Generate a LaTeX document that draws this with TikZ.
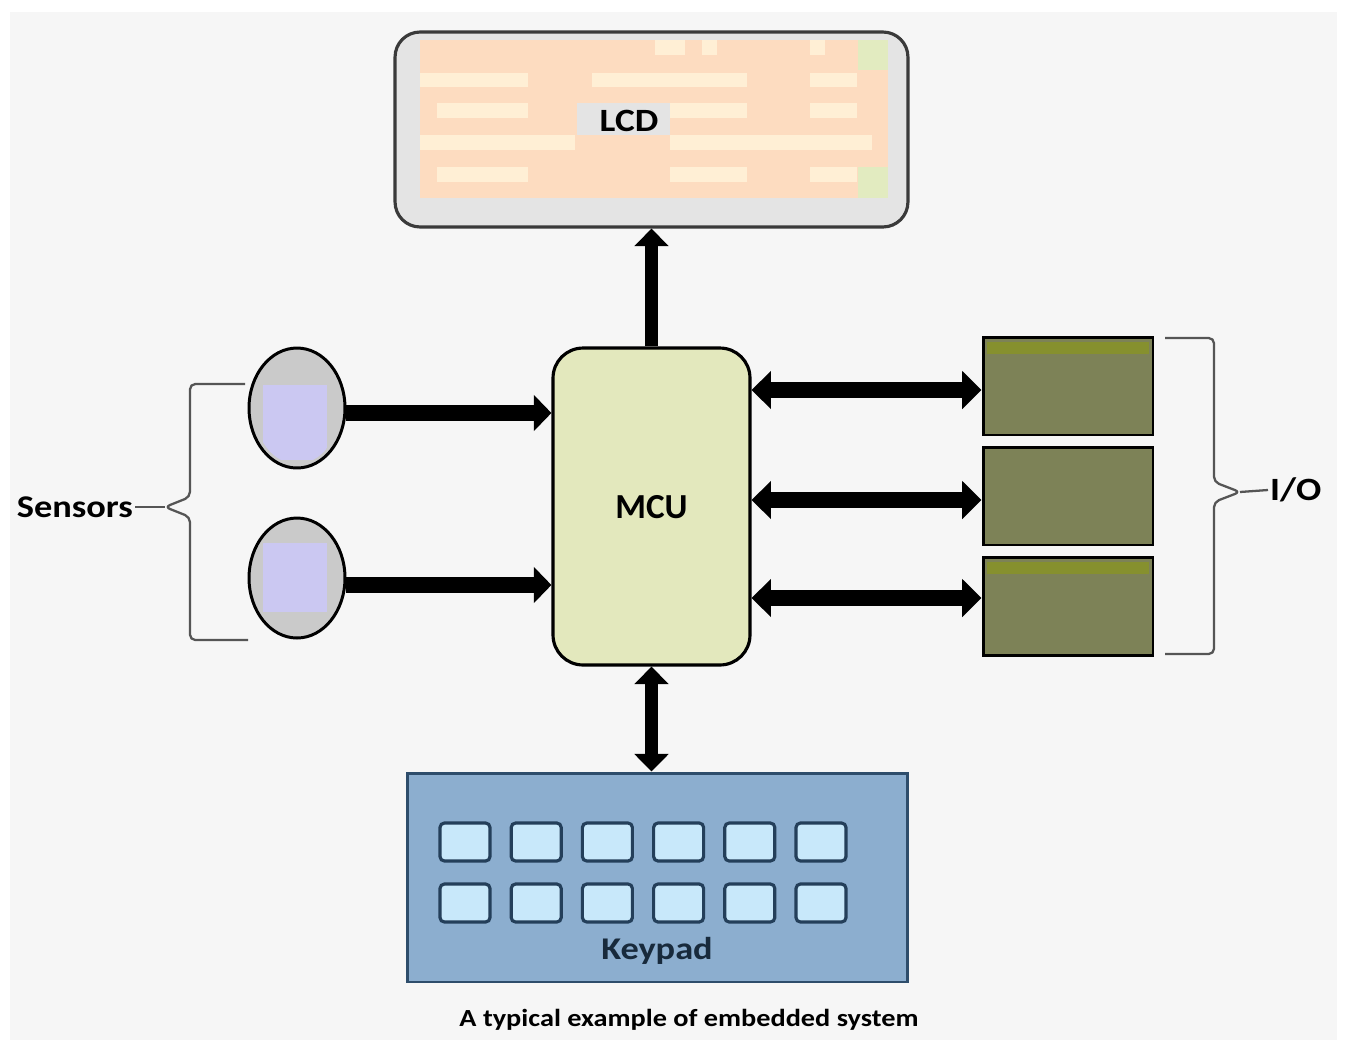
\documentclass[tikz,border=0pt]{standalone}
\usepackage{fontspec}
\setmainfont{Carlito}
\newfontfamily\widefont{Carlito}[FakeStretch=1.15]
\usetikzlibrary{arrows.meta,shapes.geometric}
\definecolor{bgc}{HTML}{F6F6F6}
\definecolor{lcdline}{HTML}{3A3A3A}
\definecolor{lcdfill}{HTML}{E4E4E4}
\definecolor{peach}{HTML}{FDDCC0}
\definecolor{cream}{HTML}{FFEFD5}
\definecolor{palegreen}{HTML}{E2EBC0}
\definecolor{mcufill}{HTML}{E3E8BD}
\definecolor{sensgray}{HTML}{CACACA}
\definecolor{lavender}{HTML}{CBC8F2}
\definecolor{olive}{HTML}{7D8257}
\definecolor{olivetop}{HTML}{86902E}
\definecolor{kpfill}{HTML}{8CAECF}
\definecolor{kpline}{HTML}{2E4D6B}
\definecolor{kptext}{HTML}{182A3C}
\definecolor{keyfill}{HTML}{C8E8FA}
\definecolor{keyline}{HTML}{243F5A}
\definecolor{bracec}{HTML}{555555}
\begin{document}
\begin{tikzpicture}[x=0.02cm,y=-0.02cm,
  lbl/.style={inner sep=1pt},
  arr/.style={line width=7.5pt, -{Triangle[length=10pt,width=19pt]}},
  sarr/.style={line width=9pt, -{Triangle[length=10pt,width=20pt]}},
  dbl/.style={line width=9pt, {Triangle[length=11pt,width=21pt]}-{Triangle[length=11pt,width=21pt]}},
  vdbl/.style={line width=7.5pt, {Triangle[length=10pt,width=19pt]}-{Triangle[length=10pt,width=19pt]}},
  sensor/.style={ellipse, draw=black, line width=1.7pt, fill=sensgray, minimum width=1.92cm, minimum height=2.4cm, inner sep=0pt},
  iobox/.style={rectangle, draw=black, line width=1.7pt, fill=olive, minimum width=3.4cm, minimum height=1.96cm, inner sep=0pt},
  keybox/.style={rectangle, draw=keyline, line width=1.8pt, fill=keyfill, rounded corners=2.5pt, minimum width=1.0cm, minimum height=0.76cm, inner sep=0pt},
  bracestyle/.style={draw=bracec, line width=1.3pt, rounded corners=3pt}
]
\useasboundingbox (0,0) rectangle (1345,1046);
\fill[white] (0,0) rectangle (1345,1046);
\fill[bgc] (10,12) rectangle (1337,1040);

% LCD
\node[draw=lcdline, line width=1.8pt, fill=lcdfill, rounded corners=0.5cm,
      minimum width=10.26cm, minimum height=3.9cm, inner sep=0pt] (lcd) at (651.5,129.5) {};
\fill[peach] (420,40) rectangle (888,198);
\fill[palegreen] (858,40) rectangle (888,70);
\fill[palegreen] (858,167) rectangle (888,198);
\foreach \a/\b in {655/685,702/717,810/825}{\fill[cream] (\a,40) rectangle (\b,55);}
\foreach \a/\b in {420/528,592/747,810/857}{\fill[cream] (\a,73) rectangle (\b,87);}
\foreach \a/\b in {437/528,670/747,810/857}{\fill[cream] (\a,103) rectangle (\b,118);}
\foreach \a/\b in {420/575,670/872}{\fill[cream] (\a,135) rectangle (\b,150);}
\foreach \a/\b in {437/528,670/747,810/857}{\fill[cream] (\a,167) rectangle (\b,182);}
\fill[lcdfill] (577,103) rectangle (670,135);
\node[lbl, font=\widefont\bfseries\fontsize{18.5}{22}\selectfont] (lcdtext) at (629,121) {LCD};

% MCU
\node[draw=black, line width=1.8pt, fill=mcufill, rounded corners=0.6cm,
      minimum width=3.94cm, minimum height=6.34cm, inner sep=0pt,
      font=\bfseries\fontsize{20}{24}\selectfont, text depth=-14pt] (mcu) at (651.5,506.5) {MCU};

% Sensors
\node[sensor] (s1) at (297,408) {};
\node[sensor] (s2) at (297,578) {};
\begin{scope}
  \clip (s1.center) ellipse [x radius=0.86cm, y radius=1.12cm];
  \fill[lavender] (263,385) rectangle (327,460);
\end{scope}
\begin{scope}
  \clip (s2.center) ellipse [x radius=0.86cm, y radius=1.12cm];
  \fill[lavender] (263,543) rectangle (327,612);
\end{scope}

% I/O boxes
\node[iobox] (io1) at (1068,386) {};
\node[iobox] (io2) at (1068,496) {};
\node[iobox] (io3) at (1068,606) {};
\fill[olivetop] (987,342) rectangle (1149,354);
\fill[olivetop] (987,562) rectangle (1149,574);

% Keypad
\node[draw=kpline, line width=1.7pt, fill=kpfill, minimum width=10.02cm, minimum height=4.18cm, inner sep=0pt] (kp) at (657.5,877.5) {};
\foreach \i in {0,...,5}{
  \node[keybox] (ka\i) at ({465+71.2*\i},842) {};
  \node[keybox] (kb\i) at ({465+71.2*\i},903) {};
}
\node[lbl, text=kptext, font=\widefont\bfseries\fontsize{18}{21}\selectfont] (kptextnode) at (657,951) {Keypad};

% connectors
\draw[arr] (mcu.north) -- (lcd.south);
\draw[sarr] (s1.east |- 0,413) coordinate (s1a) -- (mcu.west |- s1a);
\draw[sarr] (s2.east |- 0,585) coordinate (s2a) -- (mcu.west |- s2a);
\draw[dbl] (mcu.east |- 0,390) coordinate (m1) -- (io1.west |- m1);
\draw[dbl] (mcu.east |- 0,500) coordinate (m2) -- (io2.west |- m2);
\draw[dbl] (mcu.east |- 0,598) coordinate (m3) -- (io3.west |- m3);
\draw[vdbl] (mcu.south) -- (mcu.south |- kp.north);

% Sensors brace
\coordinate (sbtip) at (165,507);
\draw[bracestyle] (245,384) -- (190,384) -- (190,497) -- (sbtip) -- (190,517) -- (190,640) -- (248,640);
\node[lbl, font=\widefont\bfseries\fontsize{18}{21}\selectfont, anchor=east] (senstext) at (135,507) {Sensors};
\draw[draw=bracec, line width=1.3pt] (senstext.east) -- (sbtip);

% I/O brace
\coordinate (iobtip) at (1240,492);
\draw[bracestyle] (1165,338) -- (1214,338) -- (1214,482) -- (iobtip) -- (1214,502) -- (1214,654) -- (1165,654);
\node[lbl, font=\widefont\bfseries\fontsize{18.5}{22}\selectfont, anchor=west] (iotext) at (1268,490) {I/O};
\draw[draw=bracec, line width=1.3pt] (iobtip) -- (iotext.west);

% caption
\node[lbl, font=\widefont\bfseries\fontsize{14}{17}\selectfont] (caption) at (689,1020) {A typical example of embedded system};
\end{tikzpicture}
\end{document}
